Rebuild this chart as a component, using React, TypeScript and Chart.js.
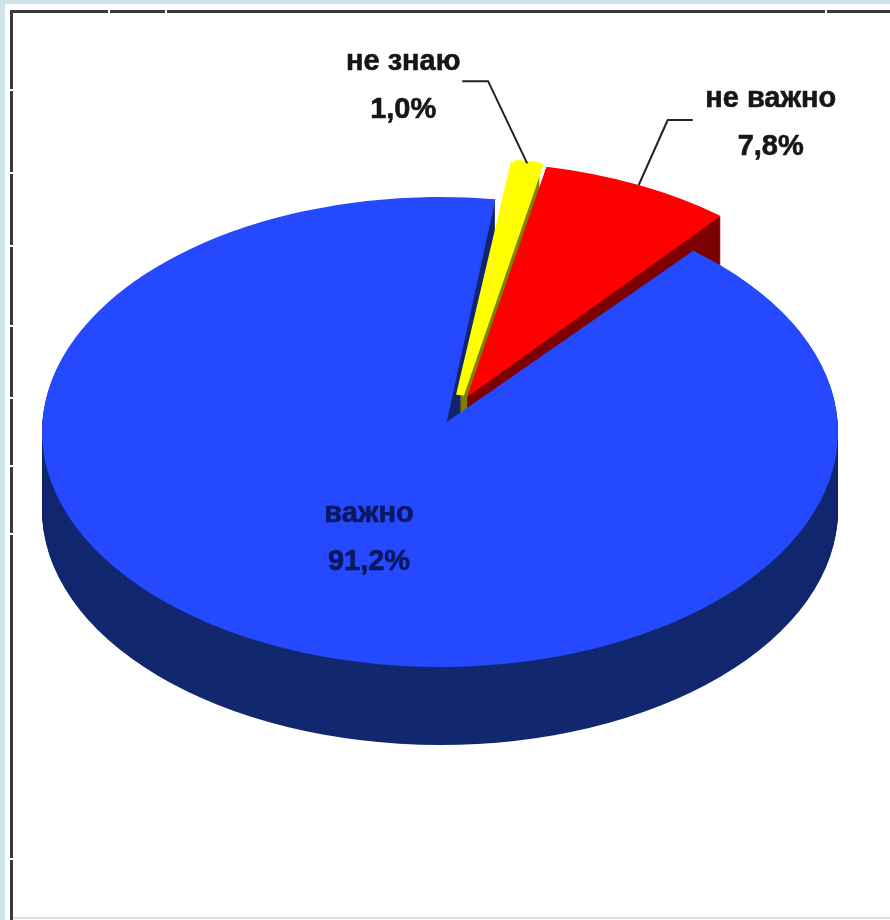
import React, { useEffect, useRef } from "react";
import { Chart, registerables } from "chart.js";

Chart.register(...registerables);

// Data
const categories = ["важно", "не знаю", "не важно"];
const shares = [91.2, 1.0, 7.8];
const shareLabels = ["91,2%", "1,0%", "7,8%"];

// Styles
const topColors = ["#2449ff", "#ffff00", "#ff0000"];
const wallColors = ["#12286f", "#808000", "#7c0000"];
const inkColors = ["#0a1660", "#161616", "#161616"];
const sliceBorders = [0, 8, 0];

// 3D look of the pie
const SQUASH = 235 / 398;
const DEPTH = 78;
const RADIUS = 398;
const ROTATION = 39.6;
const sliceShift = [
  [0, 0],
  [20, -37],
  [27, -35],
];
// where the blue wedge's point appears, relative to the ellipse centre
const APEX_SHIFT = [6, -9];
// label centre relative to the slice's rim anchor (blue: relative to the pie centre)
const labelOffset = [
  [-71, 82],
  [-124, -101],
  [132, -86],
];
const LINE_GAP = 48;
// leader: [horizontal end relative to anchor, elbow relative to anchor]
const leaders: (null | number[][])[] = [
  null,
  [
    [-65, -82],
    [-39, -82],
  ],
  [
    [54, -65],
    [29, -65],
  ],
];

// Frame ticks (small white nicks in the frame line)
const frameTopTicks = [108, 165, 825];
const frameLeftTicks = [89, 172, 245, 325, 397, 465, 533, 858];

const piePlugin = {
  id: "pie3d",
  beforeDraw(chart: any) {
    const ctx = chart.ctx;
    ctx.save();
    ctx.fillStyle = "#cfe4e8";
    ctx.fillRect(0, 0, 890, 920);
    ctx.fillStyle = "#ffffff";
    ctx.fillRect(5, 4, 885, 916);
    ctx.fillStyle = "#3a3a3a";
    ctx.fillRect(10, 10, 880, 3);
    ctx.fillRect(10, 10, 3, 910);
    ctx.fillStyle = "#dddddd";
    ctx.fillRect(13, 917, 877, 2);
    ctx.fillStyle = "#ffffff";
    frameTopTicks.forEach((x) => ctx.fillRect(x, 9, 2, 5));
    frameLeftTicks.forEach((y) => ctx.fillRect(9, y, 5, 2));
    ctx.restore();
  },
  beforeDatasetsDraw(chart: any) {
    const ctx = chart.ctx;
    const arcs = chart.getDatasetMeta(0).data;
    const { x: cx, y: cy } = arcs[0];
    const inSlice = (i: number, extraY: number, fn: () => void) => {
      ctx.save();
      ctx.translate(cx + sliceShift[i][0], cy + sliceShift[i][1] + extraY);
      ctx.scale(1, SQUASH);
      ctx.translate(-cx, -cy);
      fn();
      ctx.restore();
    };
    const wall = (i: number) => {
      const a = arcs[i];
      ctx.fillStyle = wallColors[i];
      for (let d = DEPTH; d >= 1; d--) {
        inSlice(i, d, () => {
          ctx.beginPath();
          ctx.moveTo(a.x, a.y);
          ctx.arc(a.x, a.y, a.outerRadius, a.startAngle, a.endAngle);
          ctx.closePath();
          ctx.fill();
        });
      }
    };
    [0, 1, 2].forEach(wall);
    // blue top, with the wedge's point moved to where the reference shows it
    inSlice(0, 0, () => arcs[0].draw(ctx));
    const blue = arcs[0];
    const rim = (angle: number) => [
      cx + Math.cos(angle) * blue.outerRadius,
      cy + Math.sin(angle) * blue.outerRadius * SQUASH,
    ];
    const p1 = rim(blue.startAngle);
    const p2 = rim(blue.endAngle);
    ctx.fillStyle = topColors[0];
    ctx.strokeStyle = topColors[0];
    ctx.lineWidth = 1;
    ctx.beginPath();
    ctx.moveTo(cx, cy);
    ctx.lineTo(p1[0], p1[1]);
    ctx.lineTo(cx + APEX_SHIFT[0], cy + APEX_SHIFT[1]);
    ctx.lineTo(p2[0], p2[1]);
    ctx.closePath();
    ctx.fill();
    ctx.stroke();
    [2, 1].forEach((i) => inSlice(i, 0, () => arcs[i].draw(ctx)));
    return false;
  },
  afterDraw(chart: any) {
    const ctx = chart.ctx;
    const arcs = chart.getDatasetMeta(0).data;
    ctx.save();
    ctx.textAlign = "center";
    ctx.textBaseline = "middle";
    ctx.lineJoin = "round";
    ctx.font = 'bold 29px "Liberation Sans", Arial, sans-serif';
    arcs.forEach((a: any, i: number) => {
      const mid = (a.startAngle + a.endAngle) / 2;
      const rimX = a.x + sliceShift[i][0] + Math.cos(mid) * a.outerRadius;
      const rimY = a.y + sliceShift[i][1] + Math.sin(mid) * a.outerRadius * SQUASH;
      const ax = i === 0 ? a.x : rimX;
      const ay = i === 0 ? a.y : rimY;
      const lead = leaders[i];
      if (lead) {
        ctx.strokeStyle = "#222222";
        ctx.lineWidth = 2;
        ctx.beginPath();
        ctx.moveTo(ax + lead[0][0], ay + lead[0][1]);
        ctx.lineTo(ax + lead[1][0], ay + lead[1][1]);
        ctx.lineTo(ax, ay);
        ctx.stroke();
      }
      ctx.filter = "blur(0.5px)";
      ctx.fillStyle = inkColors[i];
      ctx.strokeStyle = inkColors[i];
      ctx.lineWidth = 0.6;
      const lx = ax + labelOffset[i][0];
      const ly = ay + labelOffset[i][1];
      ctx.fillText(categories[i], lx, ly);
      ctx.strokeText(categories[i], lx, ly);
      ctx.fillText(shareLabels[i], lx, ly + LINE_GAP);
      ctx.strokeText(shareLabels[i], lx, ly + LINE_GAP);
      ctx.filter = "none";
    });
    ctx.restore();
  },
};

export default function App() {
  const ref = useRef<HTMLCanvasElement>(null);
  useEffect(() => {
    const chart = new Chart(ref.current!, {
      type: "pie",
      data: {
        labels: categories,
        datasets: [
          {
            data: shares,
            backgroundColor: topColors,
            borderColor: topColors,
            borderWidth: sliceBorders,
          },
        ],
      },
      options: {
        responsive: false,
        animation: false,
        rotation: ROTATION,
        radius: RADIUS,
        layout: { padding: { left: 0, top: 0, right: 10, bottom: 56 } },
        plugins: {
          legend: { display: false },
          tooltip: { enabled: false },
        },
      } as any,
      plugins: [piePlugin],
    });
    return () => chart.destroy();
  }, []);
  return (
    <div style={{ position: "absolute", left: 0, top: 0, width: 890, height: 920, overflow: "hidden" }}>
      <canvas ref={ref} width={890} height={920} style={{ display: "block" }} />
    </div>
  );
}
